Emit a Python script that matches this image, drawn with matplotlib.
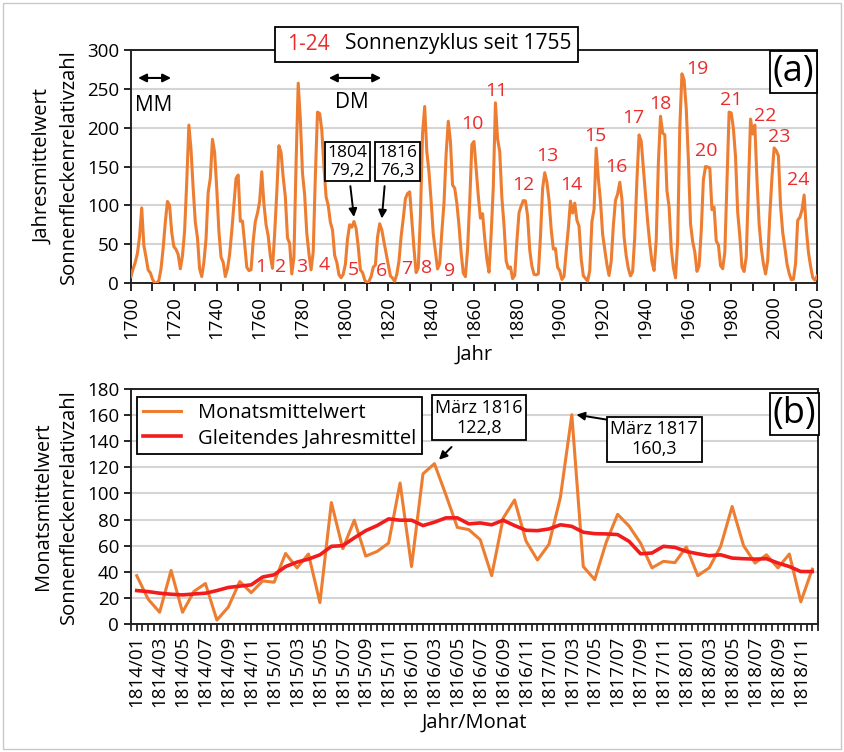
import numpy as np
import matplotlib
matplotlib.use("Agg")
import matplotlib.pyplot as plt
from matplotlib.patches import Rectangle

plt.rcParams['font.family'] = ['Open Sans', 'DejaVu Sans']

# ---------------- data ----------------
years = list(range(1700, 2021))
yearly_ssn = [
    8.3, 18.3, 26.7, 38.3, 60.0, 96.7, 48.3, 33.3, 16.7, 13.3,
    5.0, 0.0, 0.0, 3.3, 18.3, 45.0, 78.3, 105.0, 100.0, 65.0,
    46.7, 43.3, 36.7, 18.3, 35.0, 66.7, 130.0, 203.3, 171.7, 121.7,
    78.3, 58.3, 18.3, 8.3, 26.7, 56.7, 116.7, 135.0, 185.0, 168.3,
    121.7, 66.7, 33.3, 26.7, 8.3, 18.3, 36.7, 66.7, 100.0, 134.8,
    139.0, 79.5, 79.7, 51.2, 20.3, 16.0, 17.0, 54.0, 79.3, 90.0,
    104.8, 143.2, 102.0, 75.2, 60.7, 34.8, 19.0, 63.0, 116.3, 176.8,
    168.0, 136.0, 110.8, 58.0, 51.0, 11.7, 33.0, 154.2, 257.3, 209.8,
    141.3, 113.5, 64.2, 38.0, 17.0, 40.2, 138.2, 220.0, 218.2, 196.8,
    149.8, 111.0, 100.0, 78.2, 68.3, 35.5, 26.7, 10.7, 6.8, 11.3,
    24.2, 56.7, 75.0, 71.8, 79.2, 70.3, 46.8, 16.8, 13.5, 4.2,
    0.0, 2.3, 8.3, 20.3, 23.2, 59.0, 76.3, 68.3, 52.9, 38.5,
    24.2, 9.2, 6.3, 2.2, 11.4, 28.2, 59.9, 83.0, 108.5, 115.2,
    117.4, 80.8, 44.3, 13.4, 19.5, 85.8, 192.7, 227.3, 168.7, 143.0,
    105.5, 63.3, 40.3, 18.1, 25.1, 65.8, 102.7, 166.3, 208.3, 182.5,
    126.3, 122.0, 102.7, 74.1, 39.0, 12.7, 8.2, 43.4, 104.4, 178.3,
    182.2, 146.6, 112.1, 83.5, 89.2, 57.8, 30.7, 13.9, 62.8, 123.6,
    232.0, 185.3, 169.2, 110.1, 74.5, 28.3, 18.9, 20.7, 5.7, 10.0,
    53.7, 90.5, 99.0, 106.1, 105.8, 86.3, 42.4, 21.8, 11.2, 10.4,
    11.8, 59.5, 121.7, 142.0, 130.0, 106.6, 69.4, 43.8, 44.4, 20.2,
    15.7, 4.6, 8.5, 40.8, 70.1, 105.5, 90.1, 102.8, 80.9, 73.2,
    30.9, 9.5, 6.0, 2.4, 16.1, 79.0, 95.0, 173.6, 134.6, 105.7,
    62.7, 43.5, 23.7, 9.7, 27.9, 74.0, 106.5, 114.7, 129.7, 108.2,
    59.4, 35.1, 18.6, 9.2, 14.6, 60.2, 132.8, 190.6, 182.6, 148.0,
    113.0, 79.2, 50.8, 27.1, 16.1, 55.3, 154.3, 214.7, 193.0, 190.7,
    118.9, 98.3, 45.0, 20.1, 6.6, 54.2, 200.7, 269.3, 261.7, 225.1,
    159.0, 76.4, 53.4, 39.9, 15.0, 22.0, 66.8, 132.9, 150.0, 149.4,
    148.0, 94.4, 97.6, 54.1, 49.2, 22.5, 18.4, 39.3, 131.0, 220.1,
    218.9, 198.9, 162.4, 91.0, 60.5, 20.6, 14.8, 33.9, 123.0, 211.1,
    191.8, 203.3, 133.0, 76.1, 44.9, 25.1, 11.6, 28.9, 88.3, 136.3,
    173.9, 170.4, 163.6, 99.3, 65.3, 45.8, 24.7, 12.6, 4.2, 4.8,
    24.9, 80.8, 84.5, 94.0, 113.3, 69.8, 39.8, 21.7, 7.0, 3.6,
    8.8,
]

# solar cycle numbers and label positions (year, value)
cycle_labels = [str(i) for i in range(1, 25)]
cycle_x = [1760.6, 1770.0, 1779.4, 1789.9, 1803.6, 1816.8, 1828.5, 1837.8, 1848.4,
           1859.3, 1870.5, 1883.0, 1894.0, 1905.6, 1916.6, 1926.4, 1934.2, 1946.8,
           1964.0, 1968.3, 1979.9, 1995.8, 2002.5, 2011.0]
cycle_y = [20, 21, 20, 23, 17, 16, 18, 19, 16, 205, 247, 126, 163, 126, 189,
           150, 213, 230, 275, 170, 236, 215, 188, 132]

months = [f"{y}/{m:02d}" for y in range(1814, 1819) for m in range(1, 13)]
monthly = [
    37, 19, 9, 41, 9, 25, 31, 3, 13, 32.5, 24, 33,            # 1814
    32, 54, 43, 53.6, 16.4, 93, 57.7, 79.5, 52, 55.6, 62, 108,  # 1815
    44, 115, 122.8, 99, 74, 72.3, 64.6, 37, 81, 95, 63.5, 49,   # 1816
    61, 97, 160.3, 44, 34, 62.5, 84, 75, 62, 43, 48, 47,        # 1817
    59, 37, 43, 59.5, 90, 60, 46.7, 53, 43, 53.6, 17, 42,       # 1818
]
smoothed = [
    25.6, 24.8, 23.6, 22.8, 22.3, 23.0, 23.6, 25.6, 28.0, 29.0, 30.0, 36.0,
    37.7, 44.0, 47.4, 49.7, 53.0, 59.5, 60.0, 66.0, 71.5, 75.4, 80.5, 79.5,
    79.5, 75.4, 78.0, 81.3, 81.3, 76.7, 77.4, 76.0, 79.5, 75.4, 71.8, 71.5,
    72.8, 76.0, 74.8, 70.3, 69.2, 69.0, 68.5, 63.3, 53.8, 54.4, 59.5, 58.7,
    55.6, 53.8, 52.3, 53.0, 50.5, 50.0, 49.7, 50.0, 46.7, 44.0, 40.2, 40.2,
]

ORANGE = '#ED7D31'
RED = '#F21C1C'
LABRED = '#EC2B2B'
GRID = '#D4D4D4'

W, H = 844, 752
fig = plt.figure(figsize=(W / 100, H / 100), dpi=100)


def fx(px):
    return px / W


def fy(py):
    return 1 - py / H


# figure border
fig.patches.append(Rectangle((fx(3), fy(749)), fx(838), 746 / H, transform=fig.transFigure,
                             fill=False, edgecolor='#C8C8C8', lw=1.0))

TICKFS = 13.5

# ---------------- top panel ----------------
ax1 = fig.add_axes([fx(131), fy(283), fx(817 - 131), (283 - 50) / H])
ax1.plot(years, yearly_ssn, color=ORANGE, lw=2.2, zorder=3)
ax1.set_xlim(1700, 2020)
ax1.set_ylim(0, 300)
ax1.set_yticks(range(0, 301, 50))
ax1.set_xticks(range(1700, 2021, 20))
ax1.set_xticks(range(1710, 2020, 20), minor=True)
ax1.tick_params(axis='x', which='both', direction='out', length=6, width=1.2,
                labelsize=TICKFS, labelrotation=90)
ax1.tick_params(axis='y', direction='out', length=5, width=1.2, labelsize=TICKFS)
ax1.grid(axis='y', color=GRID, lw=1.5, zorder=0)
for s in ax1.spines.values():
    s.set_linewidth(1.4)
    s.set_color('#222222')
ax1.set_xlabel('Jahr', fontsize=14.5, labelpad=4)
ax1.set_ylabel('Jahresmittelwert\nSonnenfleckenrelativzahl', fontsize=14.5,
               linespacing=1.35, labelpad=6)

for lab, x, y in zip(cycle_labels, cycle_x, cycle_y):
    ax1.text(x, y, lab, color=LABRED, fontsize=14, ha='center', va='center', zorder=4)

# MM / DM
ax1.annotate('', xy=(1702, 264), xytext=(1720, 264),
             arrowprops=dict(arrowstyle='<|-|>', color='black', lw=1.5, mutation_scale=12))
ax1.text(1702, 228, 'MM', fontsize=15, ha='left', va='center')
ax1.annotate('', xy=(1791, 264), xytext=(1818, 264),
             arrowprops=dict(arrowstyle='<|-|>', color='black', lw=1.5, mutation_scale=12))
ax1.text(1803, 232, 'DM', fontsize=15, ha='center', va='center')

box = dict(boxstyle='square,pad=0.15', fc='white', ec='black', lw=1.3)
ax1.annotate('1804\n79,2', xy=(1804, 85), xytext=(1801.0, 156), fontsize=12.5,
             ha='center', va='center', bbox=box, linespacing=1.15,
             arrowprops=dict(arrowstyle='-|>', color='black', lw=1.4, mutation_scale=12,
                             shrinkA=3, shrinkB=0))
ax1.annotate('1816\n76,3', xy=(1817, 83), xytext=(1824.2, 156), fontsize=12.5,
             ha='center', va='center', bbox=box, linespacing=1.15,
             arrowprops=dict(arrowstyle='-|>', color='black', lw=1.4, mutation_scale=12,
                             shrinkA=3, shrinkB=0, relpos=(0.2, 0.0)))

ax1.text(0.966, 0.905, '(a)', transform=ax1.transAxes, fontsize=26, ha='center', va='center',
         bbox=dict(boxstyle='square,pad=0.08', fc='white', ec='black', lw=1.3), zorder=5)

# title box
fig.patches.append(Rectangle((fx(275), fy(62)), fx(578 - 275), 35 / H, transform=fig.transFigure,
                             fill=True, facecolor='white', edgecolor='black', lw=1.3, zorder=10))
fig.text(fx(287), fy(44), '1-24', color=LABRED, fontsize=15, ha='left', va='center', zorder=11)
fig.text(fx(345), fy(44), 'Sonnenzyklus seit 1755', color='black', fontsize=15,
         ha='left', va='center', zorder=11)

# ---------------- bottom panel ----------------
ax2 = fig.add_axes([fx(131), fy(624), fx(818 - 131), (624 - 389) / H])
xi = np.arange(len(months))
ax2.plot(xi, monthly, color=ORANGE, lw=2.2, zorder=3, label='Monatsmittelwert')
ax2.plot(xi, smoothed, color=RED, lw=2.6, zorder=4, label='Gleitendes Jahresmittel')
ax2.set_xlim(-0.5, len(months) - 0.5)
ax2.set_ylim(0, 180)
ax2.set_yticks(range(0, 181, 20))
ax2.set_xticks(xi[::2])
ax2.set_xticklabels(months[::2], rotation=90)
ax2.set_xticks(np.arange(-0.5, len(months), 0.5), minor=True)
ax2.tick_params(axis='x', which='both', direction='out', length=5, width=1.1, labelsize=TICKFS)
ax2.tick_params(axis='y', direction='out', length=5, width=1.2, labelsize=TICKFS)
ax2.grid(axis='y', color=GRID, lw=1.5, zorder=0)
for s in ax2.spines.values():
    s.set_linewidth(1.4)
    s.set_color('#222222')
ax2.set_xlabel('Jahr/Monat', fontsize=14.5, labelpad=4)
ax2.set_ylabel('Monatsmittelwert\nSonnenfleckenrelativzahl', fontsize=14.5,
               linespacing=1.35, labelpad=6)

leg = ax2.legend(loc='upper left', bbox_to_anchor=(0.009, 0.965), fontsize=14.5,
                 frameon=True, fancybox=False, edgecolor='black', framealpha=1,
                 handlelength=1.9, handletextpad=0.8, borderpad=0.3, labelspacing=0.25,
                 borderaxespad=0)
leg.get_frame().set_linewidth(1.3)

box2 = dict(boxstyle='square,pad=0.2', fc='white', ec='black', lw=1.3)
i16 = months.index('1816/03')
ax2.annotate('März 1816\n122,8', xy=(i16 + 0.4, monthly[i16] + 3), xytext=(i16 + 3.9, 158),
             fontsize=13, ha='center', va='center', bbox=box2, linespacing=1.15,
             arrowprops=dict(arrowstyle='-|>', color='black', lw=1.4, mutation_scale=12,
                             shrinkA=6, shrinkB=0, relpos=(0.3, 0.0)))
i17 = months.index('1817/03')
ax2.annotate('März 1817\n160,3', xy=(i17 + 0.4, monthly[i17]), xytext=(i17 + 7.2, 141.5),
             fontsize=13, ha='center', va='center', bbox=box2, linespacing=1.15,
             arrowprops=dict(arrowstyle='-|>', color='black', lw=1.4, mutation_scale=12,
                             shrinkA=0, shrinkB=0, relpos=(0.0, 1.0)))

ax2.text(0.966, 0.895, '(b)', transform=ax2.transAxes, fontsize=26, ha='center', va='center',
         bbox=dict(boxstyle='square,pad=0.08', fc='white', ec='black', lw=1.3), zorder=5)

fig.savefig('out.png', dpi=100)
